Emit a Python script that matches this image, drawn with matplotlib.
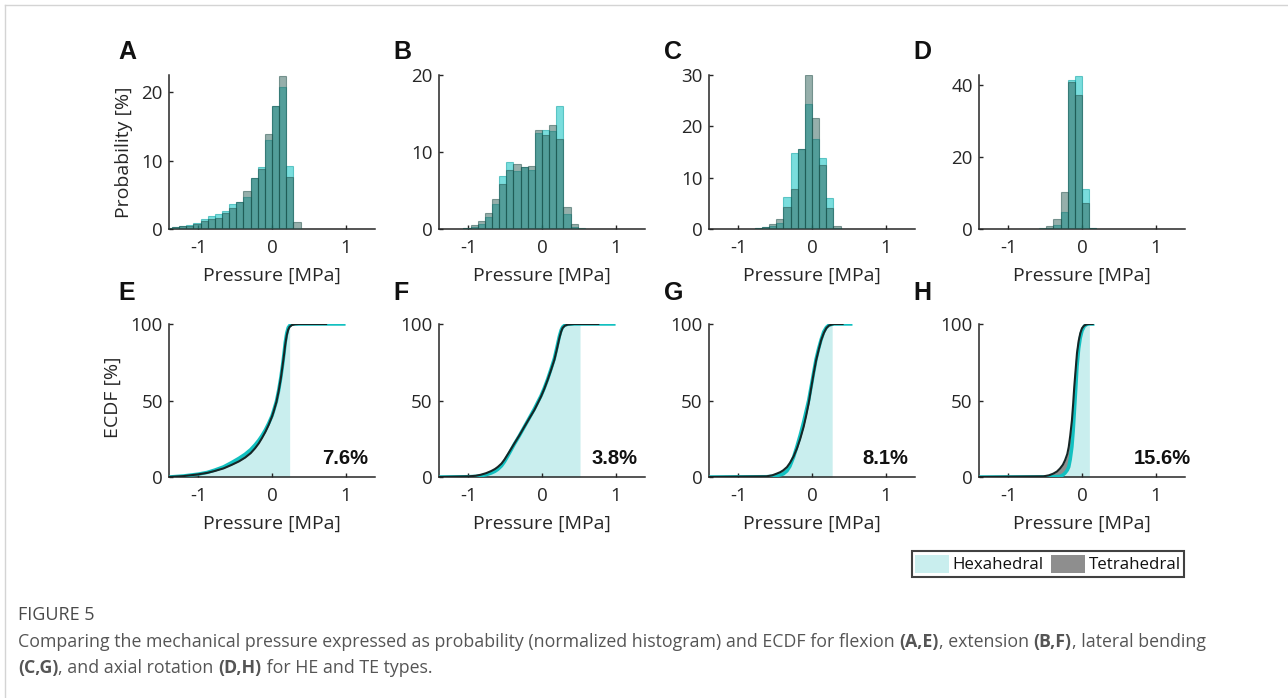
import numpy as np
import matplotlib
matplotlib.use('Agg')
import matplotlib.pyplot as plt
from matplotlib.patches import Patch
from matplotlib.lines import Line2D

plt.rcParams['font.family'] = ['Open Sans', 'DejaVu Sans']
plt.rcParams['axes.unicode_minus'] = False

# ── Histogram data: probability [%] per bin (bin width 0.097 MPa) ────────────
bin_width = 0.097
first_bin = {'A': -15, 'B': -11, 'C': -8, 'D': -6}   # index of first bin edge

hex_A = [0.2, 0.3, 0.45, 0.6, 0.9, 1.4, 1.9, 2.2, 2.7, 3.6, 3.9, 4.7, 7.4, 9.1, 13.0, 18.0, 20.8, 9.2, 0.0]
tet_A = [0.15, 0.25, 0.4, 0.5, 0.7, 1.1, 1.5, 1.6, 2.4, 3.0, 3.9, 5.6, 7.5, 8.8, 13.9, 17.9, 22.3, 7.6, 1.0]

hex_B = [0.1, 0.3, 0.7, 1.5, 3.3, 6.9, 8.7, 7.5, 8.0, 7.6, 12.5, 12.9, 12.7, 16.0, 2.0, 0.2, 0.05]
tet_B = [0.15, 0.5, 1.1, 2.1, 3.9, 5.9, 7.6, 8.4, 8.1, 8.2, 12.8, 12.2, 13.5, 11.7, 2.8, 0.7, 0.1]

hex_C = [0.1, 0.3, 0.6, 1.2, 6.3, 14.8, 15.5, 24.4, 17.5, 13.8, 6.0, 0.2, 0.05]
tet_C = [0.1, 0.4, 1.0, 1.9, 4.2, 7.8, 15.6, 30.0, 21.6, 12.4, 4.0, 0.5, 0.05]

hex_D = [0.1, 0.3, 1.2, 4.8, 41.4, 42.6, 11.1, 0.3]
tet_D = [0.2, 0.8, 2.8, 10.2, 40.9, 37.3, 7.1, 0.2]

# ── ECDF data [%] ─────────────────────────────────────────────────────────────
ecdf_x_E   = [-1.4, -1.2, -1.0, -0.88, -0.78, -0.66, -0.55, -0.45, -0.365, -0.29, -0.23, -0.18, -0.137, -0.09,
              -0.046, 0.0, 0.023, 0.06, 0.09, 0.12, 0.146, 0.165, 0.18, 0.2, 0.22, 0.24, 0.27, 0.31, 0.365]
ecdf_tet_E = [0, 0.6, 1.75, 2.7, 3.9, 5.6, 7.9, 10.2, 12.7, 15.6, 18.8, 22.0, 25.4, 29.5,
              34, 39.5, 42.9, 49.0, 56, 64.5, 73.5, 80.5, 86.5, 92.5, 96.3, 98.2, 99.3, 99.8, 100]
ecdf_hex_E = [0, 0.7, 1.9, 3.0, 4.5, 6.6, 9.4, 12.2, 14.9, 17.9, 21, 24.0, 27, 30.8,
              35, 40.0, 43.5, 49.5, 56.5, 65.0, 74, 81.5, 88.0, 94.0, 97.6, 99.0, 99.8, 100, 100]

ecdf_x_F   = [-1.4, -1.0, -0.9, -0.83, -0.76, -0.69, -0.64, -0.6, -0.55, -0.51, -0.45, -0.376, -0.31, -0.24,
              -0.17, -0.104, -0.06, -0.014, 0.03, 0.077, 0.12, 0.168, 0.2, 0.236, 0.26, 0.28, 0.31, 0.35, 0.44, 0.517]
ecdf_tet_F = [0, 0.4, 0.8, 1.5, 2.5, 3.9, 5.2, 6.6, 8.8, 11.4, 16.0, 21.9, 27.0, 32.8,
              38.5, 43.8, 48.0, 52.5, 57.5, 63.5, 69.5, 76.6, 83.0, 90.8, 95.0, 97.4, 98.9, 99.6, 100, 100]
ecdf_hex_F = [0, 0.2, 0.4, 0.8, 1.5, 2.6, 3.7, 5.0, 7.3, 10.0, 15.0, 21.5, 26.8, 32.8,
              38.8, 44.5, 48.7, 53, 58.0, 64, 70.2, 77.5, 84.2, 92, 96.0, 98, 99.3, 99.8, 100, 100]

ecdf_x_G   = [-1.4, -0.62, -0.54, -0.48, -0.43, -0.39, -0.34, -0.3, -0.25, -0.205, -0.16, -0.114, -0.08,
              -0.046, -0.01, 0.023, 0.055, 0.09, 0.125, 0.16, 0.195, 0.23, 0.274, 0.3]
ecdf_tet_G = [0, 0.4, 1.1, 2.2, 3.2, 4.4, 6.5, 9.2, 13.5, 18.6, 25.0, 32.8, 40.0,
              48, 58.5, 67.8, 76.0, 83, 89.5, 94, 97.3, 99, 99.7, 100]
ecdf_hex_G = [0, 0.2, 0.5, 1.0, 1.4, 2.0, 4.0, 7.0, 13.0, 20.0, 27.5, 36.0, 43.0,
              50, 59.5, 68.5, 77.0, 84, 90.0, 95, 97.8, 99.3, 99.8, 100]

ecdf_x_H   = [-1.4, -0.525, -0.45, -0.39, -0.34, -0.3, -0.26, -0.23, -0.2, -0.18, -0.16, -0.137, -0.12,
              -0.105, -0.085, -0.068, -0.045, -0.023, 0.0, 0.03, 0.06, 0.09, 0.1]
ecdf_tet_H = [0, 0.4, 1.1, 2.2, 3.6, 5.5, 8.0, 11, 15.0, 19.7, 27.0, 37, 48.0,
              59, 71.0, 81, 89.0, 94, 97.2, 99, 99.7, 100, 100]
ecdf_hex_H = [0, 0.1, 0.15, 0.2, 0.3, 0.4, 1.3, 2.6, 4.5, 6.6, 11.5, 19.7, 30.0,
              41.6, 57.5, 72, 84.0, 91, 95.5, 98.5, 99.6, 100, 100]

ecdf_end_hex = {'E': 1.0, 'F': 1.0, 'G': 0.55, 'H': 0.17}
ecdf_end_tet = {'E': 0.75, 'F': 0.78, 'G': 0.43, 'H': 0.16}
fill_limit   = {'E': 0.24, 'F': 0.517, 'G': 0.274, 'H': 0.1}
diff_label   = {'E': '7.6%', 'F': '3.8%', 'G': '8.1%', 'H': '15.6%'}

# ── Style ─────────────────────────────────────────────────────────────────────
W, H = 1288, 698
ink = '#262626'
hex_face, hex_edge = (0.0, 0.75, 0.75), (0.0, 0.62, 0.62)
tet_face, tet_edge = (0.18, 0.38, 0.35), (0.12, 0.30, 0.28)
hex_line, tet_line = '#12c0c0', '#162626'
hex_fill, tet_fill = '#c9eeee', '#8e8e8e'

fig = plt.figure(figsize=(W / 100, H / 100), dpi=100)


def px_axes(left, top, width, height):
    return fig.add_axes([left / W, 1 - (top + height) / H, width / W, height / H])


def style(ax):
    for s in ['top', 'right']:
        ax.spines[s].set_visible(False)
    for s in ['left', 'bottom']:
        ax.spines[s].set_color(ink)
        ax.spines[s].set_linewidth(1.1)
    ax.tick_params(direction='in', length=3, width=1, colors=ink, labelsize=13.5)
    ax.tick_params(axis='x', pad=7.5)
    ax.tick_params(axis='y', pad=4.5)
    ax.set_xlim(-1.4, 1.4)
    ax.set_xticks([-1, 0, 1])
    ax.set_xlabel('Pressure [MPa]', fontsize=14, color=ink, labelpad=7)


col_left = [169, 439, 709, 979]
letters_top = ['A', 'B', 'C', 'D']
letters_bot = ['E', 'F', 'G', 'H']

# ── Row 1: histograms ─────────────────────────────────────────────────────────
hist_data = {'A': (hex_A, tet_A), 'B': (hex_B, tet_B),
             'C': (hex_C, tet_C), 'D': (hex_D, tet_D)}
hist_ylim = {'A': (22.5, [0, 10, 20]), 'B': (20, [0, 10, 20]),
             'C': (30, [0, 10, 20, 30]), 'D': (42.8, [0, 20, 40])}

for i, key in enumerate(letters_top):
    ax = px_axes(col_left[i], 75, 206, 154)
    hx, tt = hist_data[key]
    edges = (first_bin[key] + np.arange(len(hx))) * bin_width
    ax.bar(edges, hx, width=bin_width, align='edge', color=hex_face, alpha=0.52,
           edgecolor=hex_edge, linewidth=0.8, zorder=2)
    ax.bar(edges, tt, width=bin_width, align='edge', color=tet_face, alpha=0.5,
           edgecolor=tet_edge, linewidth=0.8, zorder=3)
    style(ax)
    top, ticks = hist_ylim[key]
    ax.set_ylim(0, top)
    ax.set_yticks(ticks)
    if i == 0:
        ax.set_ylabel('Probability [%]', fontsize=14, color=ink)
        ax.yaxis.set_label_coords(-0.175, 0.5)

# ── Row 2: ECDF ───────────────────────────────────────────────────────────────
ecdf_data = {'E': (ecdf_x_E, ecdf_hex_E, ecdf_tet_E),
             'F': (ecdf_x_F, ecdf_hex_F, ecdf_tet_F),
             'G': (ecdf_x_G, ecdf_hex_G, ecdf_tet_G),
             'H': (ecdf_x_H, ecdf_hex_H, ecdf_tet_H)}
label_x = {'E': 0.966, 'F': 0.963, 'G': 0.966, 'H': 1.03}

for i, key in enumerate(letters_bot):
    ax = px_axes(col_left[i], 324, 206, 153)
    x, hy, ty = (np.array(v, dtype=float) for v in ecdf_data[key])
    inside = x <= fill_limit[key] + 1e-9
    ax.fill_between(x[inside], 0, hy[inside], color=hex_fill, lw=0, zorder=1)
    ax.fill_between(x, hy, ty, color=tet_fill, lw=0, zorder=2)
    ax.plot(np.append(x, ecdf_end_hex[key]), np.append(hy, 100),
            color=hex_line, lw=2.5, zorder=3, solid_capstyle='butt')
    ax.plot(np.append(x, ecdf_end_tet[key]), np.append(ty, 100),
            color=tet_line, lw=1.5, zorder=4, solid_capstyle='butt')
    style(ax)
    ax.set_ylim(0, 100)
    ax.set_yticks([0, 50, 100])
    ax.text(label_x[key], 0.12, diff_label[key], transform=ax.transAxes,
            ha='right', va='center', fontsize=14.5, fontweight='bold',
            family='Liberation Sans', color='#111111', zorder=5)
    if i == 0:
        ax.set_ylabel('ECDF [%]', fontsize=14, color=ink)
        ax.yaxis.set_label_coords(-0.228, 0.52)

# ── Panel letters ─────────────────────────────────────────────────────────────
letter_x = [118, 393, 664, 913]
for i in range(4):
    fig.text(letter_x[i] / W, 1 - 59 / H, letters_top[i], fontsize=18,
             fontweight='bold', family='Liberation Sans', color='#111111')
    fig.text(letter_x[i] / W, 1 - 300 / H, letters_bot[i], fontsize=18,
             fontweight='bold', family='Liberation Sans', color='#111111')

# ── Legend ────────────────────────────────────────────────────────────────────
leg = fig.legend(handles=[Patch(fc=hex_fill, ec='none', label='Hexahedral'),
                          Patch(fc=tet_fill, ec='none', label='Tetrahedral')],
                 loc='center', bbox_to_anchor=(1048 / W, 1 - 564 / H), ncol=2,
                 frameon=True, fancybox=False, edgecolor='#111111',
                 handlelength=2.0, handleheight=1.3, handletextpad=0.2,
                 columnspacing=0.45, borderpad=0.2, borderaxespad=0,
                 fontsize=12.2)
leg.get_frame().set_linewidth(1.5)
for t in leg.get_texts():
    t.set_color('#111111')

# ── Caption ───────────────────────────────────────────────────────────────────
cap_color = '#555555'
renderer = fig.canvas.get_renderer()


def draw_runs(x_px, base_px, runs, size, color=cap_color):
    x = x_px / W
    for s, bold in runs:
        t = fig.text(x, 1 - base_px / H, s, fontsize=size, color=color,
                     fontweight='bold' if bold else 'normal', va='baseline')
        x += t.get_window_extent(renderer=renderer).width / W


draw_runs(18, 620, [('FIGURE 5', False)], 13, color='#4a4a4a')
draw_runs(18, 647, [('Comparing the mechanical pressure expressed as probability '
                     '(normalized histogram) and ECDF for flexion ', False),
                    ('(A,E)', True), (', extension ', False), ('(B,F)', True),
                    (', lateral bending', False)], 12.75)
draw_runs(18, 673, [('(C,G)', True), (', and axial rotation ', False),
                    ('(D,H)', True), (' for HE and TE types.', False)], 12.75)

# ── Page border ───────────────────────────────────────────────────────────────
fig.add_artist(Line2D([5 / W, 1], [1 - 5 / H, 1 - 5 / H], color='#d4d4d4', lw=1))
fig.add_artist(Line2D([5 / W, 5 / W], [0, 1 - 5 / H], color='#d4d4d4', lw=1))

fig.savefig('out.png', dpi=100)
